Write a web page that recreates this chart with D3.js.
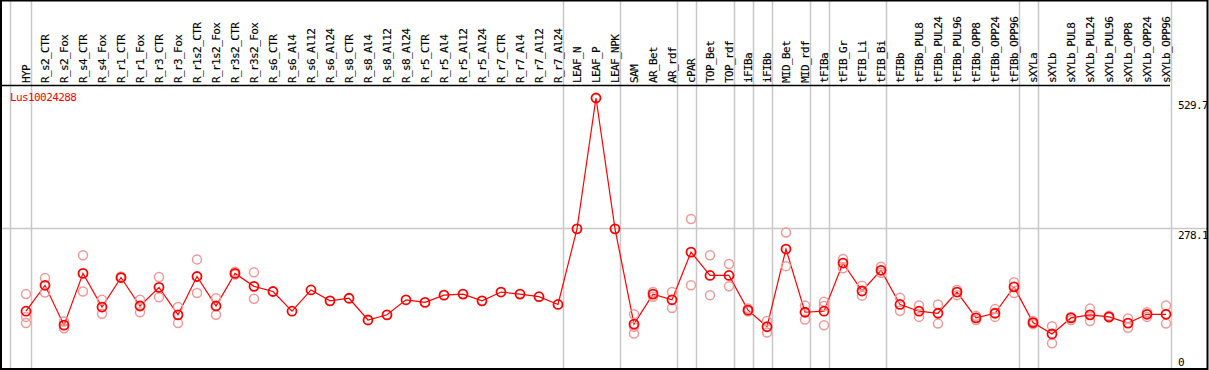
<!DOCTYPE html>
<html>
<head>
<meta charset="utf-8">
<script src="https://cdn.jsdelivr.net/npm/d3@7"></script>
<style>
  body { margin: 0; background: #fff; }
  svg text { font-family: "DejaVu Sans Mono", monospace; font-size: 11px; letter-spacing: -0.6px; }
</style>
</head>
<body>
<div id="chart"></div>
<script>
'use strict';

const geneName = 'Lus10024288';

const categories = [
    'HYP', 'R_s2_CTR', 'R_s2_Fox', 'R_s4_CTR', 'R_s4_Fox', 'R_r1_CTR', 'R_r1_Fox', 'R_r3_CTR', 'R_r3_Fox',
    'R_r1s2_CTR', 'R_r1s2_Fox', 'R_r3s2_CTR', 'R_r3s2_Fox', 'R_s6_CTR', 'R_s6_Al4', 'R_s6_Al12', 'R_s6_Al24',
    'R_s8_CTR', 'R_s8_Al4', 'R_s8_Al12', 'R_s8_Al24', 'R_r5_CTR', 'R_r5_Al4', 'R_r5_Al12', 'R_r5_Al24',
    'R_r7_CTR', 'R_r7_Al4', 'R_r7_Al12', 'R_r7_Al24', 'LEAF_N', 'LEAF_P', 'LEAF_NPK', 'SAM', 'AR_Bet', 'AR_rdf',
    'cPAR', 'TOP_Bet', 'TOP_rdf', 'iFIBa', 'iFIBb', 'MID_Bet', 'MID_rdf', 'tFIBa', 'tFIB_Gr', 'tFIB_Li', 'tFIB_Bi',
    'tFIBb', 'tFIBb_PUL8', 'tFIBb_PUL24', 'tFIBb_PUL96', 'tFIBb_OPP8', 'tFIBb_OPP24', 'tFIBb_OPP96',
    'sXYLa', 'sXYLb', 'sXYLb_PUL8', 'sXYLb_PUL24', 'sXYLb_PUL96', 'sXYLb_OPP8', 'sXYLb_OPP24', 'sXYLb_OPP96'
];

// mean expression per sample
const meanValues = [
    118, 168, 91, 191, 126, 183, 128, 164, 111,
    185, 128, 191, 166, 156, 118, 159, 138,
    143, 101, 111, 140, 135, 149, 151, 138,
    155, 151, 146, 131, 277, 529.7, 277, 93, 151, 140,
    232, 187, 187, 120, 88, 238, 116, 118, 211, 157, 197,
    131, 118, 114, 155, 105, 114, 165,
    96, 74, 105, 111, 107, 95, 112, 112
];

// replicate values (empty where only the mean is drawn)
const replicateValues = [
    [151, 107, 95], [182, 154], [98, 85], [226, 156], [140, 113], [185, 182], [140, 116], [184, 145], [126, 95],
    [218, 153], [143, 111], [194, 189], [193, 142], [], [], [], [],
    [], [], [], [], [], [], [], [],
    [], [], [], [], [], [], [], [112, 88, 75], [155, 146], [155, 124],
    [296, 168], [226, 149], [209, 166], [123, 118], [99, 77], [270, 205], [129, 102], [136, 128, 91], [219, 201], [167, 148], [204, 192],
    [144, 119], [129, 107], [131, 94], [159, 149], [109, 101], [122, 107], [174, 153],
    [99, 93], [89, 56], [107, 101], [123, 99], [109, 106], [104, 86], [116, 107], [129, 94]
];

// samples after which a group separator is drawn
const groupEnds = ['HYP', 'R_r7_Al24', 'LEAF_NPK', 'AR_rdf', 'cPAR', 'TOP_rdf', 'iFIBa', 'iFIBb',
    'MID_rdf', 'tFIBa', 'tFIB_Bi', 'tFIBb_OPP96', 'sXYLa', 'sXYLb_OPP96'];

const axisTicks = [0, 278.1, 529.7];
const gridTicks = [278.1];

const width = 1209, height = 370;
const headerBottom = 85;
const plotRight = 1170;

const svg = d3.select('#chart').append('svg')
    .attr('width', width)
    .attr('height', height);

const x = d3.scalePoint()
    .domain(categories)
    .range([26, 1166]);

const y = d3.scaleLinear()
    .domain([0, 529.7])
    .range([372.3, 98]);

const grid = '#c8c8c8';

// vertical separators
svg.append('line')
    .attr('x1', 10.5).attr('x2', 10.5)
    .attr('y1', 0).attr('y2', height)
    .attr('stroke', grid).attr('stroke-width', 1.5);

svg.selectAll('.vgrid')
    .data(groupEnds)
    .enter().append('line')
    .attr('class', 'vgrid')
    .attr('x1', d => Math.round(x(d) + 4.5) + 0.5)
    .attr('x2', d => Math.round(x(d) + 4.5) + 0.5)
    .attr('y1', 0).attr('y2', height)
    .attr('stroke', grid).attr('stroke-width', 1.5);

// horizontal gridline
svg.selectAll('.hgrid')
    .data(gridTicks)
    .enter().append('line')
    .attr('class', 'hgrid')
    .attr('x1', 1).attr('x2', width - 1)
    .attr('y1', d => Math.round(y(d)) + 0.5)
    .attr('y2', d => Math.round(y(d)) + 0.5)
    .attr('stroke', grid).attr('stroke-width', 1.5);

// frame
svg.append('rect')
    .attr('x', 1).attr('y', 0.5)
    .attr('width', width - 2.5).attr('height', height - 1.5)
    .attr('fill', 'none').attr('stroke', '#000').attr('stroke-width', 2);

svg.append('line')
    .attr('x1', 1).attr('x2', plotRight)
    .attr('y1', headerBottom + 0.5).attr('y2', headerBottom + 0.5)
    .attr('stroke', '#000').attr('stroke-width', 1.5);

// sample names
svg.selectAll('.sample')
    .data(categories)
    .enter().append('text')
    .attr('class', 'sample')
    .attr('transform', d => 'translate(' + (x(d) + 3.6) + ',' + (headerBottom - 2) + ') rotate(-90)')
    .attr('fill', '#000')
    .attr('stroke', '#000')
    .attr('stroke-width', 0.15)
    .text(d => d);

// value labels on the right
svg.selectAll('.ylab')
    .data(axisTicks)
    .enter().append('text')
    .attr('class', 'ylab')
    .attr('x', 1178)
    .attr('y', d => Math.min(y(d) + 11, 366))
    .attr('fill', '#000')
    .text(d => d);

svg.append('text')
    .attr('x', 10)
    .attr('y', 101)
    .attr('fill', '#ff0000')
    .text(geneName);

// mean line
const line = d3.line()
    .x((d, i) => x(categories[i]))
    .y(d => y(d));

svg.append('path')
    .datum(meanValues)
    .attr('d', line)
    .attr('fill', 'none')
    .attr('stroke', '#ff0000')
    .attr('stroke-width', 1.2);

// replicates
const reps = [];
replicateValues.forEach((vals, i) => {
    vals.forEach(v => reps.push({cat: categories[i], v: v}));
});

svg.selectAll('.rep')
    .data(reps)
    .enter().append('circle')
    .attr('class', 'rep')
    .attr('cx', d => x(d.cat))
    .attr('cy', d => y(d.v))
    .attr('r', 4.5)
    .attr('fill', 'none')
    .attr('stroke', '#f09999')
    .attr('stroke-width', 1.5);

// means
svg.selectAll('.mean')
    .data(meanValues)
    .enter().append('circle')
    .attr('class', 'mean')
    .attr('cx', (d, i) => x(categories[i]))
    .attr('cy', d => y(d))
    .attr('r', 4.5)
    .attr('fill', 'none')
    .attr('stroke', '#ff0000')
    .attr('stroke-width', 1.8);
</script>
</body>
</html>
